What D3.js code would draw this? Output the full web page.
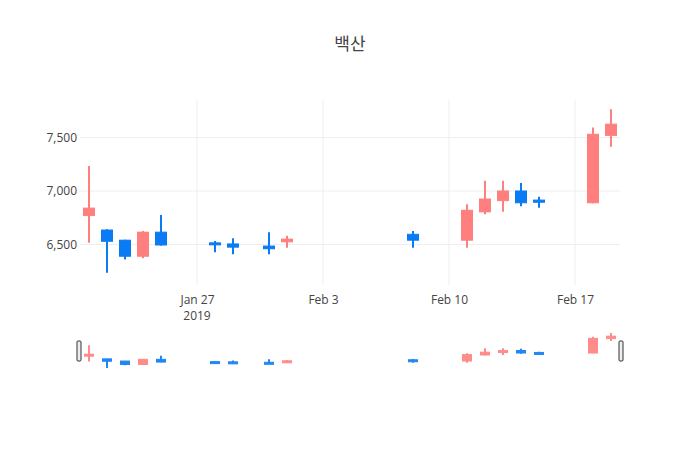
<!DOCTYPE html>
<html>
<head>
<meta charset="utf-8">
<script src="https://cdn.jsdelivr.net/npm/d3@7"></script>
<style>
  body { margin: 0; background: #fff; }
  text { font-family: "Open Sans", "Noto Sans CJK KR", sans-serif; }
</style>
</head>
<body>
<svg id="chart" width="700" height="450"></svg>
<script>
const dates = ["2019-01-21","2019-01-22","2019-01-23","2019-01-24","2019-01-25",
    "2019-01-28","2019-01-29","2019-01-31","2019-02-01","2019-02-08",
    "2019-02-11","2019-02-12","2019-02-13","2019-02-14","2019-02-15",
    "2019-02-18","2019-02-19"];
const opens  = [6770, 6635, 6540, 6390, 6615, 6515, 6505, 6485, 6525, 6595, 6540, 6805, 6910, 7000, 6915, 6890, 7520];
const highs  = [7234, 6642, 6545, 6625, 6775, 6532, 6558, 6614, 6582, 6626, 6876, 7096, 7096, 7075, 6947, 7595, 7764];
const lows   = [6517, 6236, 6360, 6370, 6490, 6427, 6408, 6408, 6470, 6470, 6470, 6782, 6806, 6857, 6844, 6885, 7414];
const closes = [6840, 6530, 6390, 6615, 6495, 6500, 6475, 6460, 6550, 6540, 6820, 6925, 7000, 6890, 6895, 7530, 7625];
const yTicks = [6500, 7000, 7500];
const title = "백산";

const upColor = "#ff7f7f", downColor = "#0a7bf5";
const parse = d3.timeParse("%Y-%m-%d");
const rows = dates.map((d, i) => ({
    date: parse(d), open: opens[i], high: highs[i], low: lows[i], close: closes[i]
}));

const svg = d3.select("#chart");
const plot = { left: 80, right: 620, top: 100, bottom: 285 };

const xScale = d3.scaleTime()
    .domain([d3.timeHour.offset(parse("2019-01-20"), 12), d3.timeHour.offset(parse("2019-02-19"), 12)])
    .range([plot.left, plot.right]);
const yScale = d3.scaleLinear().domain([6121, 7851]).range([plot.bottom, plot.top]);

svg.append("text").attr("x", 350).attr("y", 50).attr("text-anchor", "middle")
    .attr("font-size", 17).attr("fill", "#444").text(title);

// grid
const xTickDates = ["2019-01-27", "2019-02-03", "2019-02-10", "2019-02-17"].map(parse);
svg.append("g").selectAll("line").data(xTickDates).join("line")
    .attr("x1", d => xScale(d)).attr("x2", d => xScale(d))
    .attr("y1", plot.top).attr("y2", plot.bottom).attr("stroke", "#eee");
svg.append("g").selectAll("line").data(yTicks).join("line")
    .attr("x1", plot.left).attr("x2", plot.right)
    .attr("y1", d => yScale(d)).attr("y2", d => yScale(d)).attr("stroke", "#eee");

const xAxis = d3.axisBottom(xScale).tickValues(xTickDates).tickSize(0).tickPadding(10)
    .tickFormat(d => d3.timeFormat("%b %-d")(d));
const gx = svg.append("g").attr("transform", "translate(0," + plot.bottom + ")").call(xAxis);
gx.select(".domain").remove();
gx.selectAll("text").attr("font-size", 12).attr("fill", "#444");
gx.append("text").attr("x", xScale(xTickDates[0])).attr("y", 26).attr("dy", "0.71em")
    .attr("text-anchor", "middle").attr("font-size", 12).attr("fill", "#444").text("2019");

const yAxis = d3.axisLeft(yScale).tickValues(yTicks).tickSize(0).tickPadding(3);
const gy = svg.append("g").attr("transform", "translate(" + plot.left + ",0)").call(yAxis);
gy.select(".domain").remove();
gy.selectAll("text").attr("font-size", 12).attr("fill", "#444");

function drawCandles(g, x, y, bodyW) {
    const c = g.selectAll("g").data(rows).join("g")
        .attr("stroke", d => d.close >= d.open ? upColor : downColor)
        .attr("fill", d => d.close >= d.open ? upColor : downColor);
    c.append("line")
        .attr("x1", d => x(d.date)).attr("x2", d => x(d.date))
        .attr("y1", d => y(d.high)).attr("y2", d => y(d.low)).attr("stroke-width", 2);
    c.append("rect")
        .attr("x", d => x(d.date) - bodyW / 2).attr("width", bodyW)
        .attr("y", d => y(Math.max(d.open, d.close)))
        .attr("height", d => Math.max(2, Math.abs(y(d.open) - y(d.close))))
        .attr("stroke-width", 1);
}
drawCandles(svg.append("g"), xScale, yScale, 11);

// range slider
const ySlider = d3.scaleLinear().domain([6236, 7764]).range([368, 333]);
drawCandles(svg.append("g").attr("opacity", 0.9), xScale, ySlider, 9);
[plot.left - 1, plot.right + 1].forEach(hx => {
    svg.append("rect").attr("x", hx - 2).attr("y", 341).attr("width", 4).attr("height", 20)
        .attr("rx", 1).attr("fill", "#eee").attr("stroke", "#333").attr("stroke-width", 1);
});
</script>
</body>
</html>
